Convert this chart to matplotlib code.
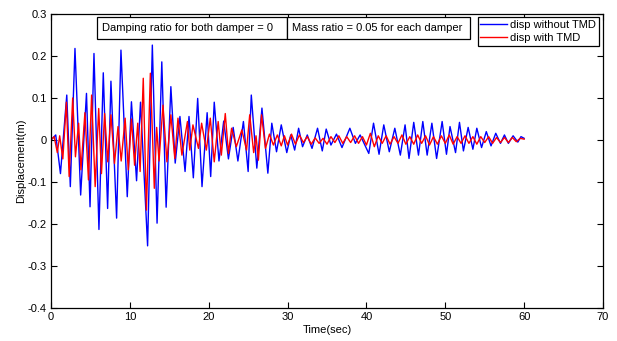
import matplotlib
matplotlib.use("Agg")
import matplotlib.pyplot as plt
from matplotlib.patches import Rectangle

plt.rcParams["font.family"] = ["Liberation Sans", "DejaVu Sans"]

# ---------------------------------------------------------------------------
# Data: extrema of the two displacement histories
# ---------------------------------------------------------------------------
blue_time = [
    0.0, 0.6, 1.2, 2.0, 2.45, 3.04, 3.76, 4.5, 4.95, 5.45, 6.08, 6.63, 7.18, 7.6,
    8.32, 8.87, 9.67, 10.2, 10.85, 11.35, 12.25, 12.85, 13.45, 14.05, 14.6, 15.2,
    15.75, 16.35, 17.0, 17.5, 18.05, 18.6, 19.15, 19.8, 20.25, 20.7, 21.3, 21.9,
    22.5, 23.1, 23.7, 24.4, 25.0, 25.4, 26.1, 26.75, 27.5, 28.0, 28.6, 29.2, 29.9,
    30.4, 30.9, 31.4, 31.9, 32.5, 33.1, 33.8, 34.4, 34.9, 35.5, 36.2, 36.9, 37.9,
    38.6, 39.2, 40.3, 40.9, 41.6, 42.2, 42.9, 43.6, 44.3, 44.9, 45.4, 46.0, 46.6,
    47.15, 47.7, 48.3, 48.9, 49.6, 50.15, 50.6, 51.3, 51.8, 52.3, 52.9, 53.5, 54.0,
    54.6, 55.2, 55.8, 56.4, 57.0, 57.5, 58.0, 58.6, 59.2, 59.6, 60.0,
]
blue_disp = [
    0.0, 0.012, -0.08, 0.107, -0.111, 0.218, -0.131, 0.111, -0.159, 0.206, -0.213,
    0.16, -0.163, 0.14, -0.186, 0.214, -0.135, 0.091, -0.097, 0.09, -0.252, 0.226,
    -0.198, 0.186, -0.16, 0.127, -0.055, 0.056, -0.075, 0.056, -0.09, 0.099, -0.111,
    0.065, -0.087, 0.09, -0.05, 0.045, -0.045, 0.03, -0.05, 0.044, -0.075, 0.107,
    -0.067, 0.076, -0.079, 0.04, -0.028, 0.036, -0.03, 0.012, -0.024, 0.028, -0.016,
    0.012, -0.02, 0.028, -0.026, 0.026, -0.012, 0.014, -0.018, 0.028, -0.008, 0.012,
    -0.032, 0.04, -0.034, 0.036, -0.028, 0.028, -0.036, 0.036, -0.044, 0.042, -0.036,
    0.044, -0.036, 0.04, -0.044, 0.044, -0.034, 0.032, -0.03, 0.042, -0.026, 0.03,
    -0.022, 0.028, -0.018, 0.02, -0.014, 0.016, -0.008, 0.012, -0.008, 0.01, -0.005,
    0.008, 0.004,
]

red_time = [
    0.0, 0.4, 0.8, 1.1, 1.5, 1.95, 2.3, 2.75, 3.1, 3.5, 3.8, 4.3, 4.75, 5.15, 5.6,
    6.05, 6.4, 6.8, 7.2, 7.6, 8.05, 8.5, 8.9, 9.4, 9.8, 10.2, 10.6, 11.0, 11.3,
    11.7, 12.1, 12.6, 13.1, 13.4, 13.7, 14.2, 14.7, 15.2, 15.7, 16.1, 16.6, 17.3,
    17.6, 18.0, 18.7, 19.1, 19.7, 20.2, 20.7, 21.2, 21.6, 22.1, 22.5, 22.9, 23.5,
    24.2, 24.8, 25.2, 25.7, 26.0, 26.3, 26.7, 27.2, 27.7, 28.2, 28.7, 29.2, 29.6,
    30.0, 30.5, 31.0, 31.5, 32.0, 32.5, 33.0, 33.5, 34.0, 34.5, 35.0, 35.5, 36.0,
    36.5, 37.0, 37.5, 38.0, 38.5, 39.0, 39.5, 40.0, 40.5, 41.0, 41.5, 42.0, 42.5,
    43.0, 43.5, 44.0, 44.5, 45.0, 45.5, 46.0, 46.5, 47.0, 47.5, 48.0, 48.5, 49.0,
    49.5, 50.0, 50.5, 51.0, 51.5, 52.0, 52.5, 53.0, 53.5, 54.0, 54.5, 55.0, 55.5,
    56.0, 56.5, 57.0, 57.5, 58.0, 58.5, 59.0, 59.5, 60.0,
]
red_disp = [
    0.0, 0.008, -0.03, 0.01, -0.045, 0.09, -0.087, 0.1, -0.04, 0.04, -0.071, 0.065,
    -0.095, 0.107, -0.111, 0.075, -0.08, 0.063, -0.052, 0.06, -0.056, 0.032, -0.05,
    0.052, -0.071, 0.05, -0.06, 0.04, -0.075, 0.147, -0.167, 0.159, -0.115, 0.03,
    -0.05, 0.083, -0.052, 0.06, -0.044, 0.052, -0.036, 0.044, -0.024, 0.036, -0.02,
    0.04, -0.024, 0.052, -0.052, 0.044, -0.036, 0.063, -0.032, 0.028, -0.016, 0.024,
    -0.024, 0.06, -0.03, 0.01, -0.048, 0.06, -0.02, 0.014, -0.012, 0.012, -0.014,
    0.01, -0.012, 0.014, -0.01, 0.012, -0.006, 0.008, -0.01, 0.005, -0.008, 0.004,
    -0.01, 0.008, -0.006, 0.01, -0.008, 0.008, -0.006, 0.01, -0.008, 0.008, -0.012,
    0.016, -0.016, 0.01, -0.008, 0.01, -0.01, 0.008, -0.008, 0.012, -0.01, 0.008,
    -0.01, 0.012, -0.008, 0.01, -0.012, 0.008, -0.01, 0.01, -0.008, 0.012, -0.01,
    0.008, -0.008, 0.01, -0.008, 0.008, -0.01, 0.008, -0.006, 0.008, -0.008, 0.006,
    -0.006, 0.006, -0.006, 0.006, -0.004, 0.004, 0.002,
]

x_ticks = [0, 10, 20, 30, 40, 50, 60, 70]
y_ticks = [-0.4, -0.3, -0.2, -0.1, 0, 0.1, 0.2, 0.3]
note_texts = ["Damping ratio for both damper = 0", "Mass ratio = 0.05 for each damper"]
series_labels = ["disp without TMD", "disp with TMD"]

# ---------------------------------------------------------------------------
# Figure layout in pixels (617 x 341)
# ---------------------------------------------------------------------------
W, H = 617, 341


def fx(px):
    return px / W


def fy(py):
    return 1 - py / H


fig = plt.figure(figsize=(W / 100, H / 100), dpi=100)
ax = fig.add_axes([fx(51), fy(308), fx(603) - fx(51), fy(14) - fy(308)])

ax.plot(blue_time, blue_disp, color="#0000ff", linewidth=1.0,
        solid_joinstyle="round", label=series_labels[0])
ax.plot(red_time, red_disp, color="#ff0000", linewidth=1.0,
        solid_joinstyle="round", label=series_labels[1])

ax.set_xlim(0, 70)
ax.set_ylim(-0.4, 0.3)
ax.set_xticks(x_ticks)
ax.set_yticks(y_ticks)
ax.set_xticklabels([str(t) for t in x_ticks])
ax.set_yticklabels(["-0.4", "-0.3", "-0.2", "-0.1", "0", "0.1", "0.2", "0.3"])
ax.tick_params(direction="in", length=4, width=0.8, labelsize=8,
               top=True, right=True, pad=3)
for sp in ax.spines.values():
    sp.set_linewidth(0.9)
ax.set_xlabel("Time(sec)", fontsize=8, labelpad=2)
ax.set_ylabel("Displacement(m)", fontsize=8, labelpad=1)

leg = ax.legend(loc="upper right", bbox_to_anchor=(fx(599), fy(17.3)),
                bbox_transform=fig.transFigure, fontsize=8, fancybox=False,
                framealpha=1, edgecolor="black", borderpad=0.25,
                labelspacing=0.25, handlelength=2.4, handletextpad=0.3,
                borderaxespad=0)
leg.get_frame().set_linewidth(0.9)

# annotation boxes
boxes = [(97.3, 287.3, 101.5), (287.3, 470.0, 292.0)]
for (x0, x1, tx), txt in zip(boxes, note_texts):
    fig.patches.append(Rectangle((fx(x0), fy(39.3)), fx(x1) - fx(x0),
                                 fy(17.3) - fy(39.3), transform=fig.transFigure,
                                 facecolor="white", edgecolor="black", linewidth=0.9))
    fig.text(fx(tx), fy(28.3), txt, fontsize=8, ha="left", va="center")

fig.savefig("out.png", dpi=100)
